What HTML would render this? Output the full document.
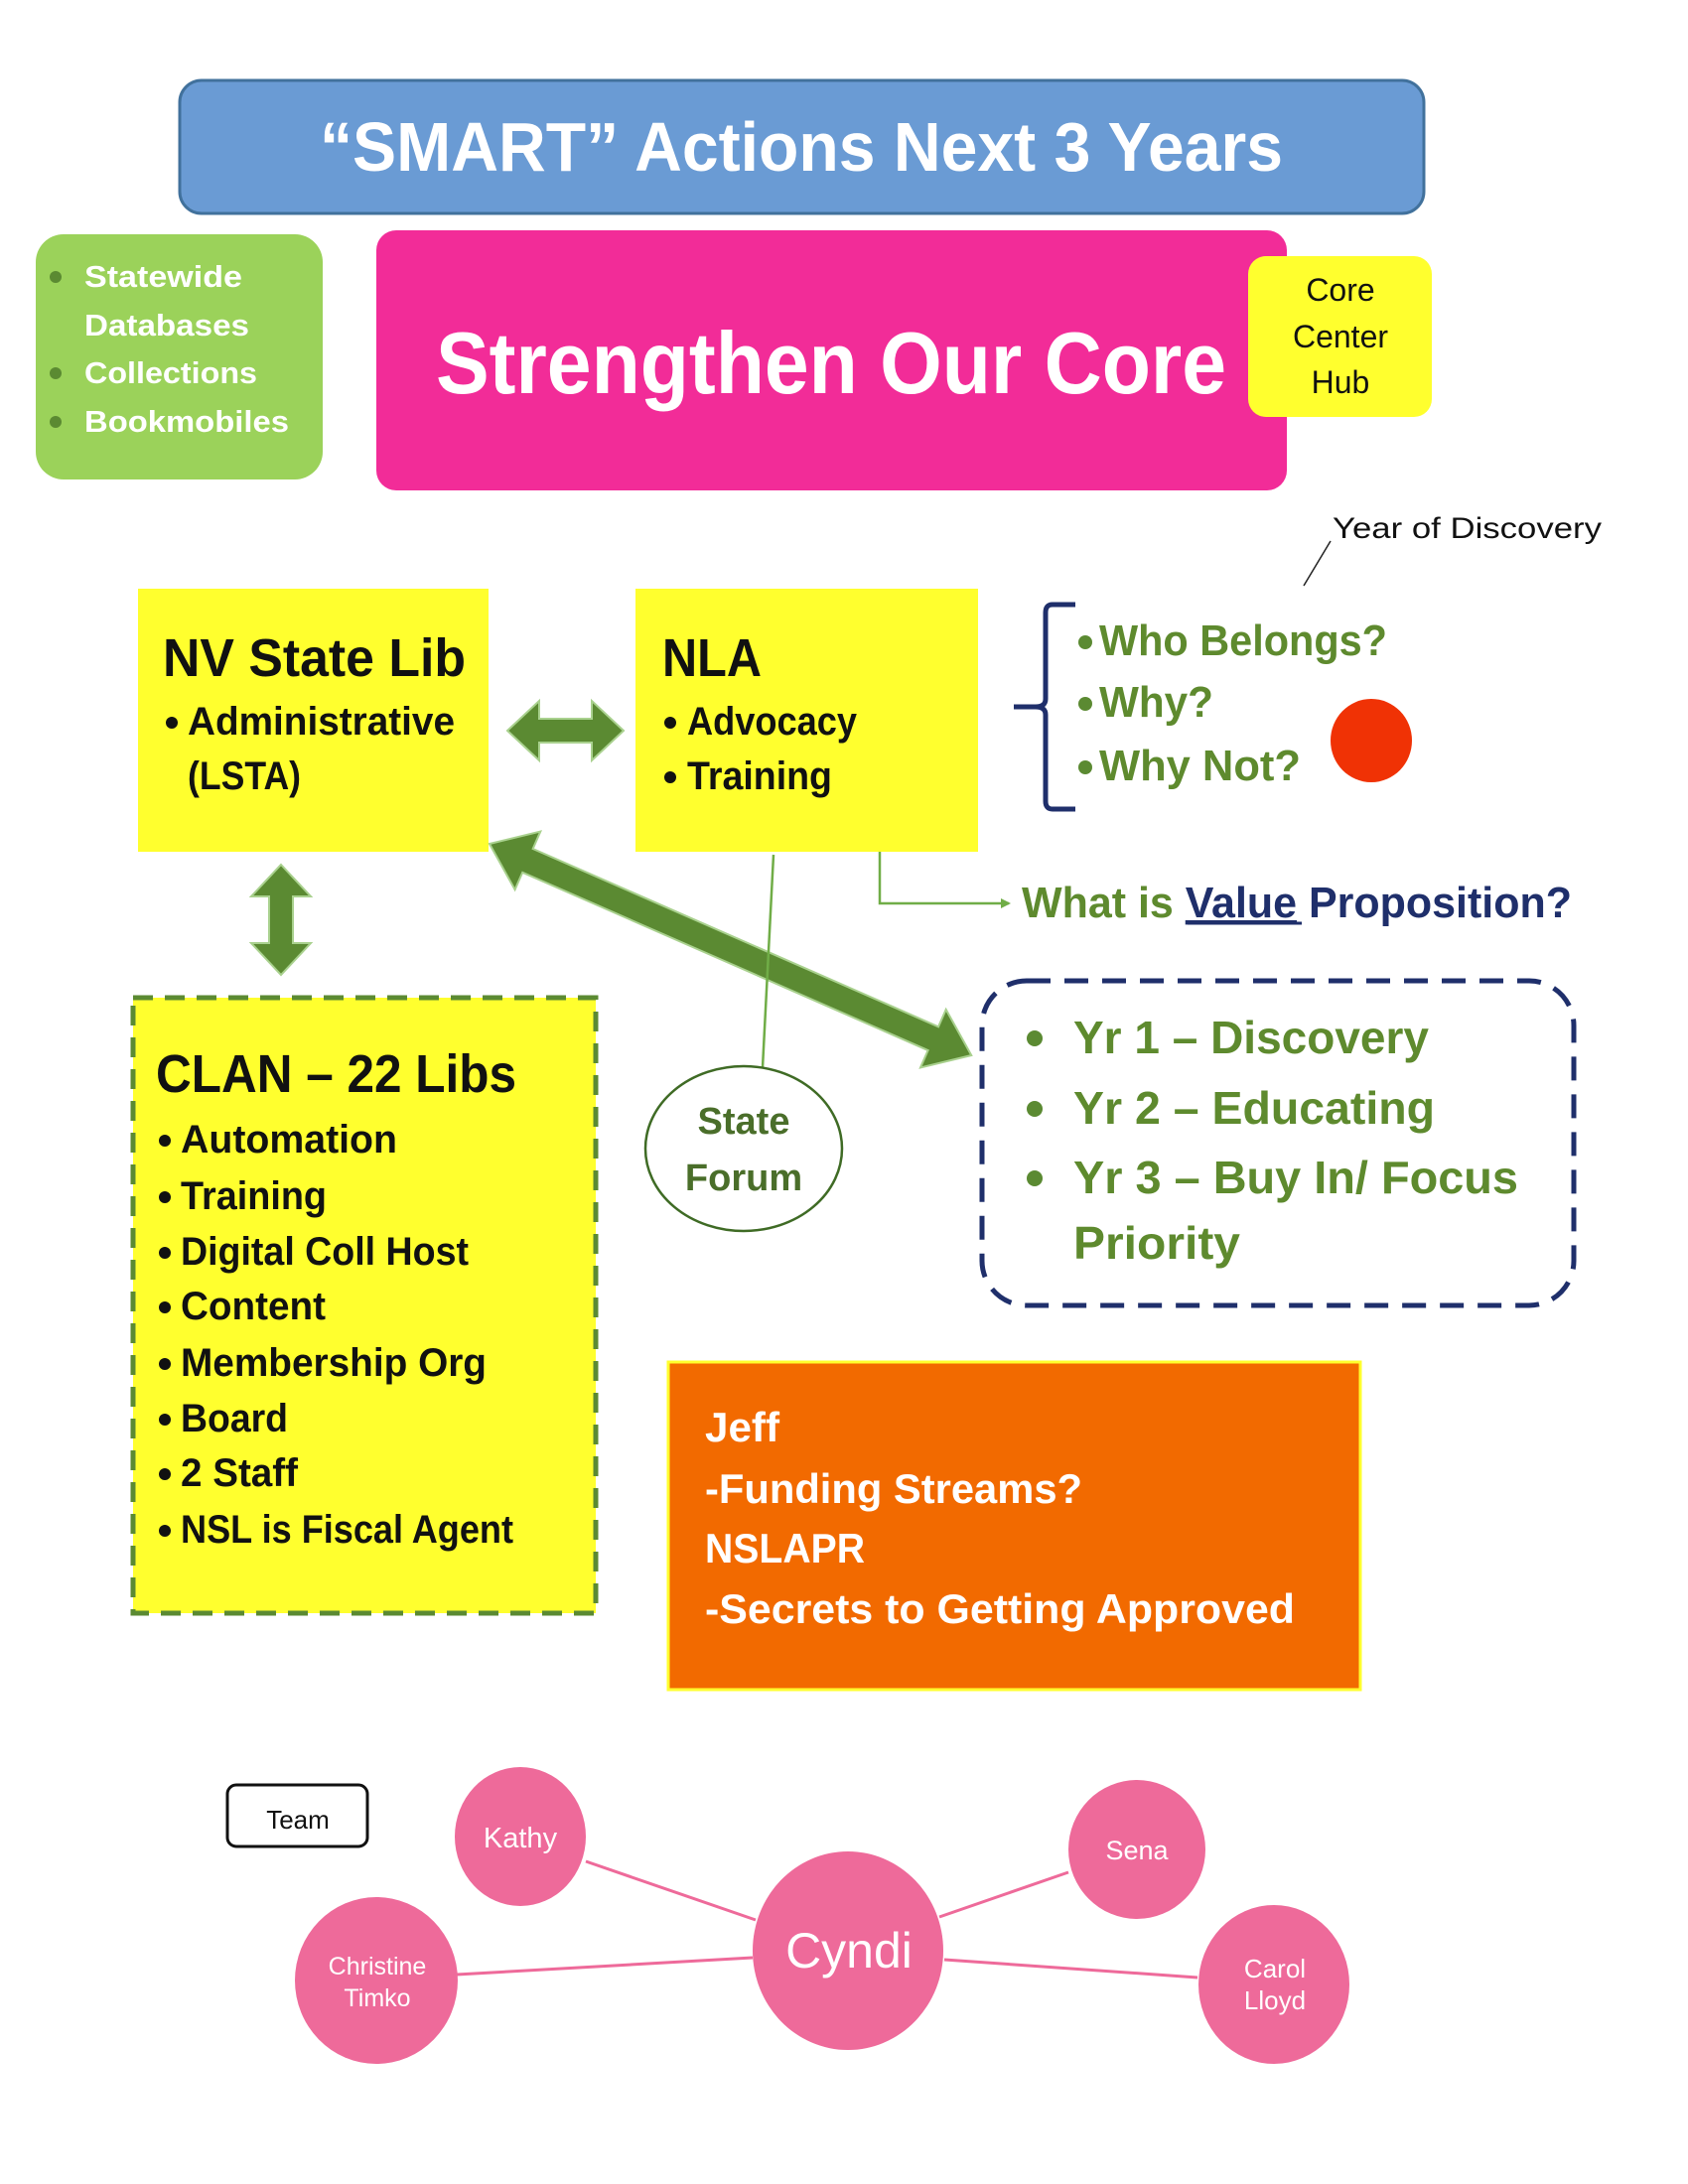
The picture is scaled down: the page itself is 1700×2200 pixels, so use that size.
<!DOCTYPE html>
<html><head><meta charset="utf-8"><style>html,body{margin:0;padding:0;background:#fff}svg{display:block}</style></head><body>
<svg width="1700" height="2200" viewBox="0 0 1700 2200" xmlns="http://www.w3.org/2000/svg" font-family="Liberation Sans, sans-serif" font-weight="bold">
<defs>
<marker id="ah" markerWidth="10" markerHeight="10" refX="8" refY="5" orient="auto" markerUnits="userSpaceOnUse"><path d="M0,0 L10,5 L0,10 Z" fill="#70ad47"/></marker>
</defs>
<rect x="181" y="81" width="1253" height="134" rx="22" fill="#6a9bd4" stroke="#41719c" stroke-width="3"/>
<text x="322" y="172" font-size="70" fill="#fff" textLength="970" lengthAdjust="spacingAndGlyphs">“SMART” Actions Next 3 Years</text>
<rect x="36" y="236" width="289" height="247" rx="28" fill="#9bd25a"/>
<g fill="#5b8a32"><circle cx="56" cy="279" r="6"/><circle cx="56" cy="376" r="6"/><circle cx="56" cy="425" r="6"/></g>
<g fill="#fff" font-size="31">
<text x="85" y="289" textLength="159" lengthAdjust="spacingAndGlyphs">Statewide</text>
<text x="85" y="338" textLength="166" lengthAdjust="spacingAndGlyphs">Databases</text>
<text x="85" y="386" textLength="174" lengthAdjust="spacingAndGlyphs">Collections</text>
<text x="85" y="435" textLength="206" lengthAdjust="spacingAndGlyphs">Bookmobiles</text></g>
<rect x="379" y="232" width="917" height="262" rx="20" fill="#f22c98"/>
<text x="439" y="396" font-size="88" fill="#fff" textLength="796" lengthAdjust="spacingAndGlyphs">Strengthen Our Core</text>
<rect x="1257" y="258" width="185" height="162" rx="18" fill="#ffff2e"/>
<g font-weight="normal" font-size="32" fill="#111" text-anchor="middle">
<text x="1350" y="303">Core</text><text x="1350" y="350">Center</text><text x="1350" y="396">Hub</text></g>
<text x="1342" y="542" font-weight="normal" font-size="30" fill="#111" textLength="271" lengthAdjust="spacingAndGlyphs">Year of Discovery</text>
<line x1="1313" y1="590" x2="1340" y2="545" stroke="#222" stroke-width="1.5"/>
<rect x="139" y="593" width="353" height="265" fill="#ffff2e"/>
<text x="164" y="681" font-size="54" fill="#111" textLength="305" lengthAdjust="spacingAndGlyphs">NV State Lib</text>
<circle cx="173" cy="728" r="6" fill="#111"/>
<text x="189" y="740" font-size="40" fill="#111" textLength="269" lengthAdjust="spacingAndGlyphs">Administrative</text>
<text x="189" y="795" font-size="40" fill="#111" textLength="114" lengthAdjust="spacingAndGlyphs">(LSTA)</text>
<rect x="640" y="593" width="345" height="265" fill="#ffff2e"/>
<text x="667" y="681" font-size="54" fill="#111" textLength="100" lengthAdjust="spacingAndGlyphs">NLA</text>
<circle cx="675" cy="728" r="6" fill="#111"/><circle cx="675" cy="783" r="6" fill="#111"/>
<text x="692" y="740" font-size="40" fill="#111" textLength="171" lengthAdjust="spacingAndGlyphs">Advocacy</text>
<text x="692" y="795" font-size="40" fill="#111" textLength="146" lengthAdjust="spacingAndGlyphs">Training</text>
<!-- horizontal double arrow -->
<path d="M511,736 L543,706 L543,724 L596,724 L596,706 L628,736 L596,766 L596,748 L543,748 L543,766 Z" fill="#5b8a32" stroke="#a9d18e" stroke-width="2"/>
<!-- vertical double arrow -->
<path d="M283,871 L313,903 L295,903 L295,950 L313,950 L283,982 L253,950 L271,950 L271,903 L253,903 Z" fill="#5b8a32" stroke="#a9d18e" stroke-width="2"/>
<!-- diagonal double arrow -->
<g transform="translate(493,850) rotate(23.7)">
<path d="M0,0 L42,-32 L42,-13 L488,-13 L488,-32 L530,0 L488,32 L488,13 L42,13 L42,32 Z" fill="#5b8a32" stroke="#a9d18e" stroke-width="2"/>
</g>
<!-- brace -->
<path d="M1083,609 L1060,609 Q1053,609 1053,617 L1053,704 Q1053,712 1043,712 L1021,712 M1043,712 Q1053,712 1053,720 L1053,807 Q1053,815 1060,815 L1083,815" fill="none" stroke="#1f2f6b" stroke-width="5"/>
<g fill="#5b8a32"><circle cx="1093" cy="647" r="7"/><circle cx="1093" cy="709" r="7"/><circle cx="1093" cy="773" r="7"/></g>
<g fill="#5e8a2e" font-size="44">
<text x="1107" y="660" textLength="290" lengthAdjust="spacingAndGlyphs">Who Belongs?</text>
<text x="1107" y="722" textLength="115" lengthAdjust="spacingAndGlyphs">Why?</text>
<text x="1107" y="786" textLength="203" lengthAdjust="spacingAndGlyphs">Why Not?</text></g>
<ellipse cx="1381" cy="746" rx="41" ry="42" fill="#f03205"/>
<!-- thin connectors -->
<line x1="779" y1="861" x2="767" y2="1095" stroke="#70ad47" stroke-width="2.5" marker-end="url(#ah)"/>
<polyline points="886,858 886,910 1016,910" fill="none" stroke="#70ad47" stroke-width="2.5" marker-end="url(#ah)"/>
<text x="1029" y="924" font-size="44" textLength="554" lengthAdjust="spacingAndGlyphs"><tspan fill="#5e8a2e">What is </tspan><tspan fill="#1f2f6b" text-decoration="underline">Value</tspan><tspan fill="#1f2f6b"> Proposition?</tspan></text>
<line x1="1196" y1="930" x2="1311" y2="930" stroke="#1f2f6b" stroke-width="3"/>
<ellipse cx="749" cy="1157" rx="99" ry="83" fill="#fff" stroke="#3f6b25" stroke-width="2.5"/>
<g fill="#4a6e2a" font-size="38" text-anchor="middle">
<text x="749" y="1142">State</text><text x="749" y="1199">Forum</text></g>
<rect x="989" y="988" width="596" height="327" rx="45" fill="none" stroke="#1f2f6b" stroke-width="5" stroke-dasharray="24,14"/>
<g fill="#5b8a32"><circle cx="1042" cy="1046" r="8"/><circle cx="1042" cy="1117" r="8"/><circle cx="1042" cy="1187" r="8"/></g>
<g fill="#5e8a2e" font-size="46">
<text x="1081" y="1061" textLength="358" lengthAdjust="spacingAndGlyphs">Yr 1 – Discovery</text>
<text x="1081" y="1132" textLength="364" lengthAdjust="spacingAndGlyphs">Yr 2 – Educating</text>
<text x="1081" y="1202" textLength="448" lengthAdjust="spacingAndGlyphs">Yr 3 – Buy In/ Focus</text>
<text x="1081" y="1268" textLength="168" lengthAdjust="spacingAndGlyphs">Priority</text></g>
<rect x="134" y="1005" width="466" height="620" fill="#ffff2e" stroke="#5b8a32" stroke-width="5" stroke-dasharray="20,12"/>
<text x="157" y="1100" font-size="54" fill="#111" textLength="363" lengthAdjust="spacingAndGlyphs">CLAN – 22 Libs</text>
<g fill="#111"><circle cx="166" cy="1149" r="6"/><circle cx="166" cy="1206" r="6"/><circle cx="166" cy="1262" r="6"/><circle cx="166" cy="1317" r="6"/><circle cx="166" cy="1374" r="6"/><circle cx="166" cy="1430" r="6"/><circle cx="166" cy="1485" r="6"/><circle cx="166" cy="1542" r="6"/></g>
<g fill="#111" font-size="40">
<text x="182" y="1161" textLength="218" lengthAdjust="spacingAndGlyphs">Automation</text>
<text x="182" y="1218" textLength="147" lengthAdjust="spacingAndGlyphs">Training</text>
<text x="182" y="1274" textLength="290" lengthAdjust="spacingAndGlyphs">Digital Coll Host</text>
<text x="182" y="1329" textLength="146" lengthAdjust="spacingAndGlyphs">Content</text>
<text x="182" y="1386" textLength="308" lengthAdjust="spacingAndGlyphs">Membership Org</text>
<text x="182" y="1442" textLength="108" lengthAdjust="spacingAndGlyphs">Board</text>
<text x="182" y="1497" textLength="118" lengthAdjust="spacingAndGlyphs">2 Staff</text>
<text x="182" y="1554" textLength="335" lengthAdjust="spacingAndGlyphs">NSL is Fiscal Agent</text></g>
<rect x="673" y="1372" width="697" height="330" fill="#f26a00" stroke="#ffff2e" stroke-width="3"/>
<g fill="#fff" font-size="42">
<text x="710" y="1452" textLength="75" lengthAdjust="spacingAndGlyphs">Jeff</text>
<text x="710" y="1514" textLength="380" lengthAdjust="spacingAndGlyphs">-Funding Streams?</text>
<text x="710" y="1574" textLength="161" lengthAdjust="spacingAndGlyphs">NSLAPR</text>
<text x="710" y="1635" textLength="594" lengthAdjust="spacingAndGlyphs">-Secrets to Getting Approved</text></g>
<rect x="229" y="1798" width="141" height="62" rx="9" fill="#fff" stroke="#111" stroke-width="3"/>
<text x="300" y="1842" font-weight="normal" font-size="26" fill="#111" text-anchor="middle">Team</text>
<g stroke="#ee6a9a" stroke-width="3">
<line x1="590" y1="1875" x2="761" y2="1934"/><line x1="1076" y1="1886" x2="946" y2="1931"/>
<line x1="460" y1="1989" x2="758" y2="1972"/><line x1="951" y1="1974" x2="1206" y2="1992"/></g>
<g fill="#ee6a9a">
<ellipse cx="524" cy="1850" rx="66" ry="70"/><ellipse cx="1145" cy="1863" rx="69" ry="70"/>
<ellipse cx="854" cy="1965" rx="96" ry="100"/><ellipse cx="379" cy="1995" rx="82" ry="84"/>
<ellipse cx="1283" cy="1999" rx="76" ry="80"/></g>
<g fill="#fff" font-weight="normal" text-anchor="middle">
<text x="524" y="1861" font-size="29">Kathy</text>
<text x="1145" y="1873" font-size="27">Sena</text>
<text x="855" y="1982" font-size="50">Cyndi</text>
<text x="380" y="1989" font-size="25">Christine</text><text x="380" y="2021" font-size="25">Timko</text>
<text x="1284" y="1992" font-size="26">Carol</text><text x="1284" y="2024" font-size="26">Lloyd</text></g>
</svg>
</body></html>
